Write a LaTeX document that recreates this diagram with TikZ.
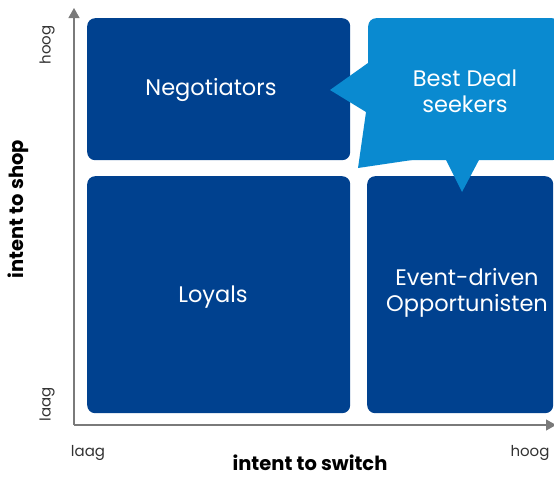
\documentclass[tikz,border=0pt]{standalone}
\usepackage{fontspec}
\setmainfont{Poppins}
\usetikzlibrary{positioning, arrows.meta}
\definecolor{darkblue}{HTML}{00418F}
\definecolor{lightblue}{HTML}{0A8AD0}
\definecolor{axisgray}{HTML}{7A7A7A}

\tikzset{
  quadrant/.style={fill=darkblue, rounded corners=8pt, text=white, align=center,
    anchor=north west, inner sep=0pt, font=\fontsize{22.5}{26}\selectfont},
  axis/.style={draw=axisgray, line width=1.2pt, -{Triangle[length=10pt,width=11pt]}},
  ticklabel/.style={text=black!80, font=\fontsize{15}{18}\selectfont},
  axistitle/.style={inner sep=1pt, font=\bfseries\fontsize{19.5}{24}\selectfont}
}

\begin{document}
\begin{tikzpicture}[x=1pt, y=-1pt]
\useasboundingbox (0,0) rectangle (554,479);
% axes
\coordinate (origin) at (74,425);
\coordinate (ytop) at (74,8);
\coordinate (xright) at (556,425);
\draw[axis] (origin) -- (ytop);
\draw[axis] (origin) -- (xright);

% the four quadrants
\node[quadrant, minimum width=263pt, minimum height=142pt] (negot) at (87,18) {};
\node[quadrant, minimum width=263pt, minimum height=237pt] (loyals) at (87,176) {};
\node[quadrant, minimum width=186pt, minimum height=237pt] (event) at (367,176) {};

% callout over the top right quadrant
\fill[lightblue] (368,63) -- (330,90) -- (366,112) -- (358,168) -- (412,160) -- (412,100) -- (390,63) -- cycle;
\fill[lightblue] (445,158) -- (462,192) -- (480,158) -- cycle;
\node[quadrant, fill=lightblue, minimum width=192pt, minimum height=142pt] (bestdeal) at (368,18) {};

% quadrant names
\node[quadrant, fill=none, anchor=center] (negotname) at (211,90) {Negotiators};
\node[quadrant, fill=none, anchor=center] (loyalsname) at (213,297) {Loyals};
\node[quadrant, fill=none, anchor=center] (eventname) at (467,293) {Event-driven\\Opportunisten};
\node[quadrant, fill=none, anchor=center] (bestdealname) at (465,91) {Best Deal\\seekers};

% axis labels
\node[ticklabel, rotate=90] (yhigh) at (47,45) {hoog};
\node[ticklabel, rotate=90] (ylow) at (47,404) {laag};
\node[ticklabel] (xlow) at (88,453) {laag};
\node[ticklabel] (xhigh) at (530,453) {hoog};
\node[axistitle, rotate=90] (ytitle) at (18,209) {intent to shop};
\node[axistitle, anchor=base] (xtitle) at (310,470) {intent to switch};
\end{tikzpicture}
\end{document}
